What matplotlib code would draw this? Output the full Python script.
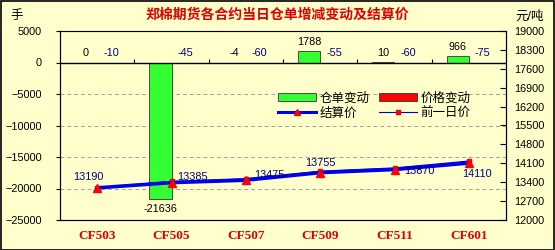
import numpy as np
import matplotlib.pyplot as plt
from matplotlib.patches import Patch
from matplotlib.lines import Line2D

plt.rcParams['font.family'] = ['Liberation Sans', 'Noto Sans CJK SC']

# data
contracts = ['CF503', 'CF505', 'CF507', 'CF509', 'CF511', 'CF601']
warrant_change = [0, -21636, -4, 1788, 10, 966]       # 仓单变动 (手)
price_change = [-10, -45, -60, -55, -60, -75]         # 价格变动 (元/吨)
settle = [13190, 13385, 13475, 13755, 13870, 14110]   # 结算价
prev_settle = [s - c for s, c in zip(settle, price_change)]  # 前一日价

bg = '#FFFFCC'
green = '#33FF33'
x = np.arange(len(contracts))
w = 0.3
num_size = 7.8

fig = plt.figure(figsize=(5.55, 2.5), dpi=100, facecolor=bg)
fig.patches.append(plt.Rectangle((0.001, 0.002), 0.997, 0.995, transform=fig.transFigure,
                                 fill=False, edgecolor='black', linewidth=1.2))
ax = fig.add_axes([60 / 555, 30 / 250, 446 / 555, 189 / 250])
ax.set_facecolor(bg)

# bars on left axis
ax.bar(x - w / 2, warrant_change, w, color=green, edgecolor='#333333', linewidth=0.6, zorder=3)
ax.bar(x + w / 2, price_change, w, color='red', edgecolor='#333333', linewidth=0.6, zorder=3)
ax.set_xlim(-0.5, len(contracts) - 0.5)
ax.set_ylim(-25000, 5000)
ax.set_yticks(np.arange(-25000, 5001, 5000))
for v in range(-20000, 0, 5000):
    ax.axhline(v, color='#A0A0A0', linestyle=(0, (4, 3)), linewidth=0.7, zorder=1)
ax.axhline(0, color='black', linewidth=1, zorder=4)
ax.vlines(x[:-1] + 0.5, 0, 600, color='black', linewidth=0.8, zorder=4)

ax.set_xticks(x)
ax.set_xticklabels(contracts, color='#DD0000', fontweight='bold', fontsize=9.5,
                   family='Liberation Serif')
ax.tick_params(axis='x', length=0, pad=7)
ax.tick_params(axis='y', labelsize=num_size, length=3, pad=10)
ax.spines['top'].set_color('#808080')

# bar labels
for xi, v in zip(x, warrant_change):
    if v < 0 and abs(v) > 1000:
        ax.annotate(str(v), (xi - w / 2, v), xytext=(0, -4), textcoords='offset points',
                    ha='center', va='top', fontsize=num_size)
    else:
        ax.annotate(str(v), (xi - w / 2, max(v, 0)), xytext=(0, 3), textcoords='offset points',
                    ha='center', va='bottom', fontsize=num_size)
for xi, v in zip(x, price_change):
    ax.annotate(str(v), (xi + w / 2, 0), xytext=(2, 3), textcoords='offset points',
                ha='center', va='bottom', fontsize=num_size, color='#000080')

# price lines on right axis
ax2 = ax.twinx()
ax2.set_ylim(12000, 19000)
ax2.set_yticks(np.arange(12000, 19001, 700))
ax2.tick_params(axis='y', labelsize=num_size, direction='in', length=4, pad=6)
ax2.plot(x, prev_settle, color='#0000CC', linewidth=0.8, marker='s', markersize=2.5,
         markerfacecolor='red', markeredgecolor='red', zorder=3)
ax2.plot(x, settle, color='#0000EE', linewidth=2.6, marker='^', markersize=6,
         markerfacecolor='red', markeredgecolor='red', zorder=4)
label_offsets = [(-6, 8), (15, 4), (17, 4), (0, 7), (18, -1), (6, -8)]
for xi, v, off in zip(x, settle, label_offsets):
    ax2.annotate(str(v), (xi, v), xytext=off, textcoords='offset points',
                 ha='center', va='center', fontsize=num_size, color='#000080', zorder=5)

handles = [
    Patch(facecolor=green, edgecolor='#333333', linewidth=0.6),
    Patch(facecolor='red', edgecolor='#333333', linewidth=0.6),
    Line2D([], [], color='#0000EE', linewidth=2.2, marker='^', markersize=5,
           markerfacecolor='red', markeredgecolor='red'),
    Line2D([], [], color='#0000CC', linewidth=0.8, marker='s', markersize=2.5,
           markerfacecolor='red', markeredgecolor='red'),
]
labels = ['仓单变动', '价格变动', '结算价', '前一日价']
order = [0, 2, 1, 3]
ax2.legend([handles[i] for i in order], [labels[i] for i in order], ncol=2,
           loc='upper left', bbox_to_anchor=(0.475, 0.71), frameon=False, fontsize=9,
           handlelength=3, handleheight=0.6, columnspacing=0.8, labelspacing=0.25,
           handletextpad=0.3, borderpad=0)

fig.text(0.5, 0.94, '郑棉期货各合约当日仓单增减变动及结算价', ha='center', va='center',
         color='#DD0000', fontsize=10, fontweight='bold')
fig.text(0.03, 0.935, '手', ha='center', va='center', fontsize=9)
fig.text(0.955, 0.935, '元/吨', ha='center', va='center', fontsize=9)

fig.savefig('out.png', dpi=100, facecolor=bg)
